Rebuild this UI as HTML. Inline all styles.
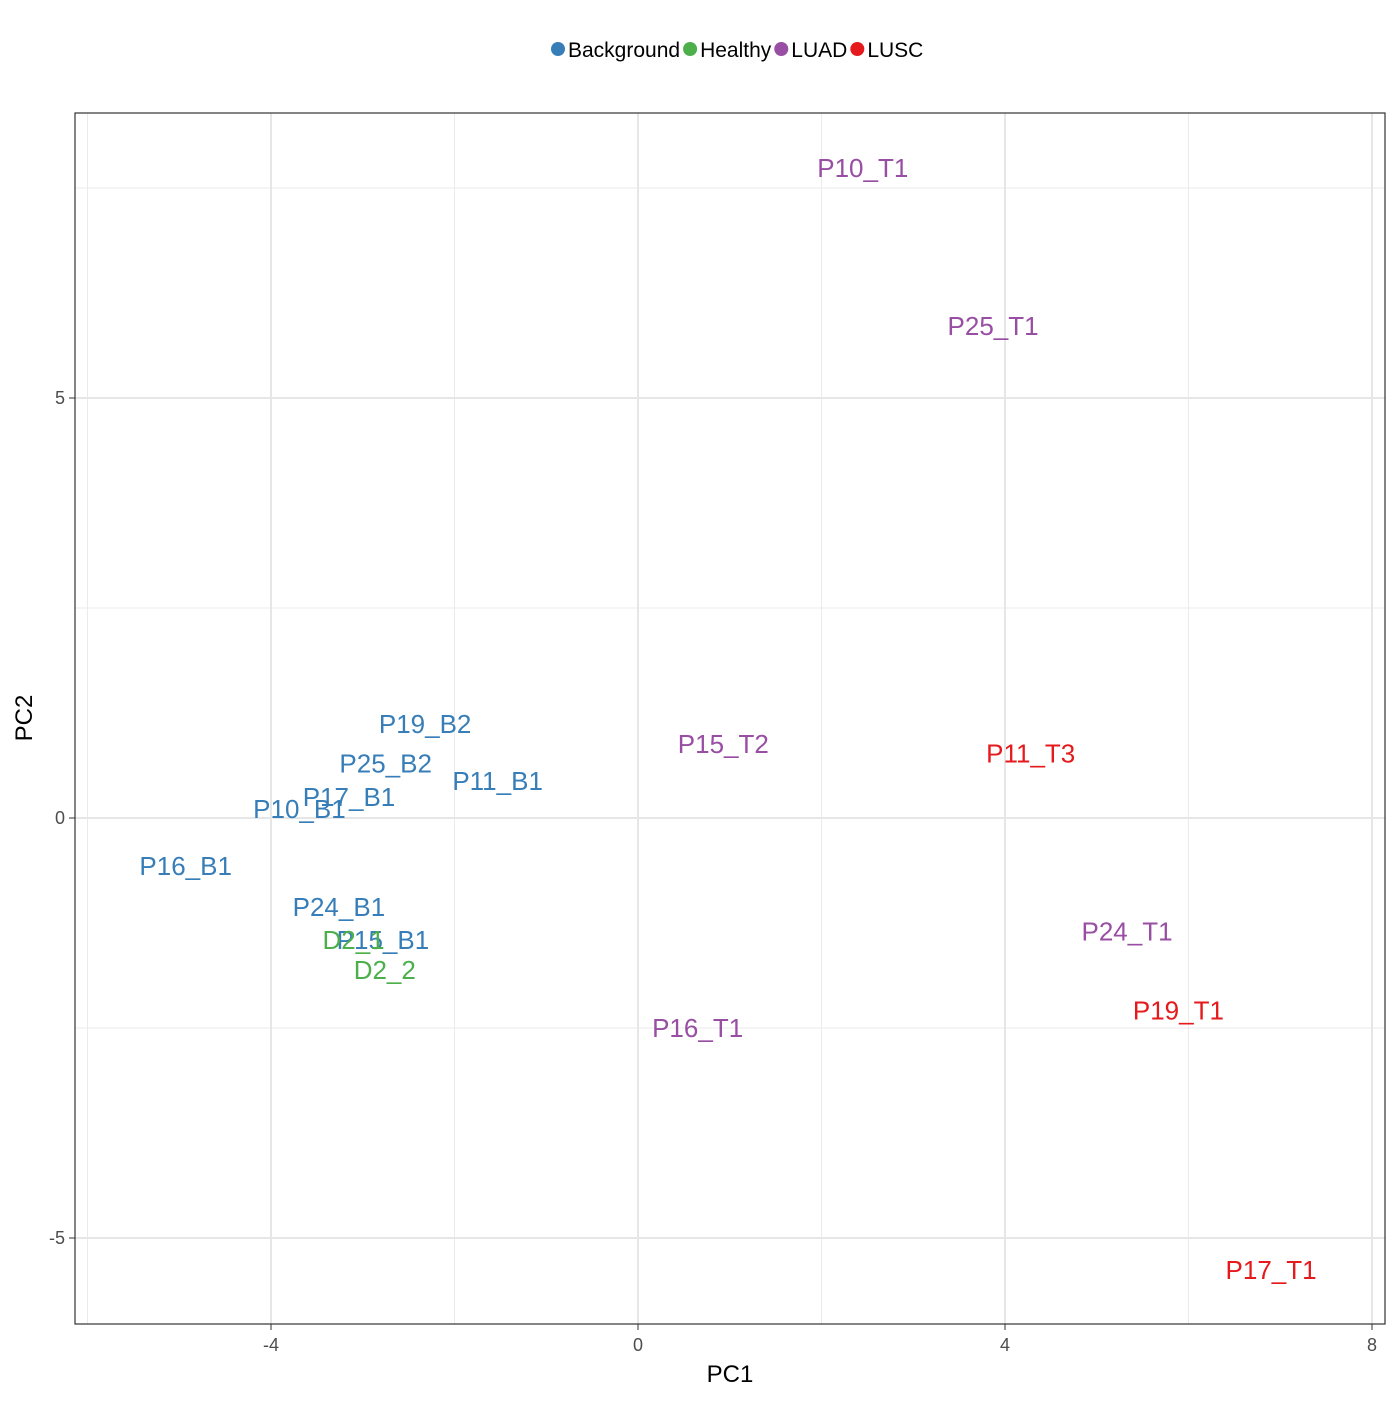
<!DOCTYPE html>
<html><head><meta charset="utf-8"><style>
body{margin:0;background:#fff;font-family:"Liberation Sans",Arial,sans-serif;}
</style></head><body>
<svg width="1400" height="1400" xmlns="http://www.w3.org/2000/svg" font-family="Liberation Sans, Arial, sans-serif">
<g id="legend"></g>
<g id="grid"></g>
<rect x="75" y="113" width="1310" height="1211" fill="none" stroke="#333" stroke-width="1.2"/>
<g id="axes"></g>
<g id="points"></g>
<text x="730" y="1382" text-anchor="middle" font-size="24" fill="#000">PC1</text>
<text transform="translate(32,718) rotate(-90)" text-anchor="middle" font-size="24" fill="#000">PC2</text>
</svg>
<script>
const labels=["P10_T1","P25_T1","P19_B2","P25_B2","P11_B1","P17_B1","P10_B1","P16_B1","P24_B1","P15_B1","D2_1","D2_2","P15_T2","P11_T3","P24_T1","P19_T1","P16_T1","P17_T1"];
const pc1=[2.45,3.87,-2.32,-2.75,-1.53,-3.15,-3.69,-4.93,-3.26,-2.78,-3.10,-2.76,0.93,4.28,5.33,5.89,0.65,6.90];
const pc2=[7.74,5.86,1.12,0.65,0.44,0.25,0.11,-0.57,-1.06,-1.45,-1.45,-1.81,0.88,0.77,-1.35,-2.29,-2.50,-5.38];
const groups=["LUAD","LUAD","Background","Background","Background","Background","Background","Background","Background","Background","Healthy","Healthy","LUAD","LUSC","LUAD","LUSC","LUAD","LUSC"];
const groupNames=["Background","Healthy","LUAD","LUSC"];
const xTicks=[-4,0,4,8];
const yTicks=[-5,0,5];
const xMinor=[-6,-2,2,6];
const yMinor=[-2.5,2.5,7.5];
const colors={Background:"#377EB8",Healthy:"#4DAF4A",LUAD:"#984EA3",LUSC:"#E41A1C"};
const NS="http://www.w3.org/2000/svg";
const X=v=>638+v*91.75, Y=v=>818-v*84;
const L=75,R=1385,T=113,B=1324;
function mk(tag,at,parent){const e=document.createElementNS(NS,tag);for(const k in at)e.setAttribute(k,at[k]);parent.appendChild(e);return e;}
const grid=document.getElementById('grid'),axes=document.getElementById('axes'),pts=document.getElementById('points'),leg=document.getElementById('legend');
xMinor.forEach(v=>{const l=mk('line',{x1:X(v),x2:X(v),y1:T,y2:B,stroke:"#ebebeb","stroke-width":1},grid);

});
yMinor.forEach(v=>{const l=mk('line',{x1:L,x2:R,y1:Y(v),y2:Y(v),stroke:"#ebebeb","stroke-width":1},grid);

});
xTicks.forEach(v=>{const l=mk('line',{x1:X(v),x2:X(v),y1:T,y2:B,stroke:"#e6e6e6","stroke-width":2},grid);


const t=mk('line',{x1:X(v),x2:X(v),y1:B,y2:B+6,stroke:"#333","stroke-width":1},axes);


const tx=mk('text',{x:X(v),y:B+27,"text-anchor":"middle","font-size":18,fill:"#4d4d4d"},axes);tx.textContent=v;

});
yTicks.forEach(v=>{const l=mk('line',{x1:L,x2:R,y1:Y(v),y2:Y(v),stroke:"#e6e6e6","stroke-width":2},grid);


const t=mk('line',{x1:L-6,x2:L,y1:Y(v),y2:Y(v),stroke:"#333","stroke-width":1},axes);


const tx=mk('text',{x:L-10,y:Y(v)+6,"text-anchor":"end","font-size":18,fill:"#4d4d4d"},axes);tx.textContent=v;

});
labels.forEach((s,i)=>{const t=mk('text',{x:X(pc1[i]),y:Y(pc2[i])+9,"text-anchor":"middle","font-size":26,fill:colors[groups[i]]},pts);t.textContent=s;

});
let lx=551;
groupNames.forEach(g=>{const c=mk('circle',{cx:lx+7,cy:49,r:7,fill:colors[g]},leg);


const t=mk('text',{x:lx+17,y:57,"font-size":21,fill:"#000"},leg);t.textContent=g;


lx+=17+t.getComputedTextLength()+3;});
</script>
</body></html>
